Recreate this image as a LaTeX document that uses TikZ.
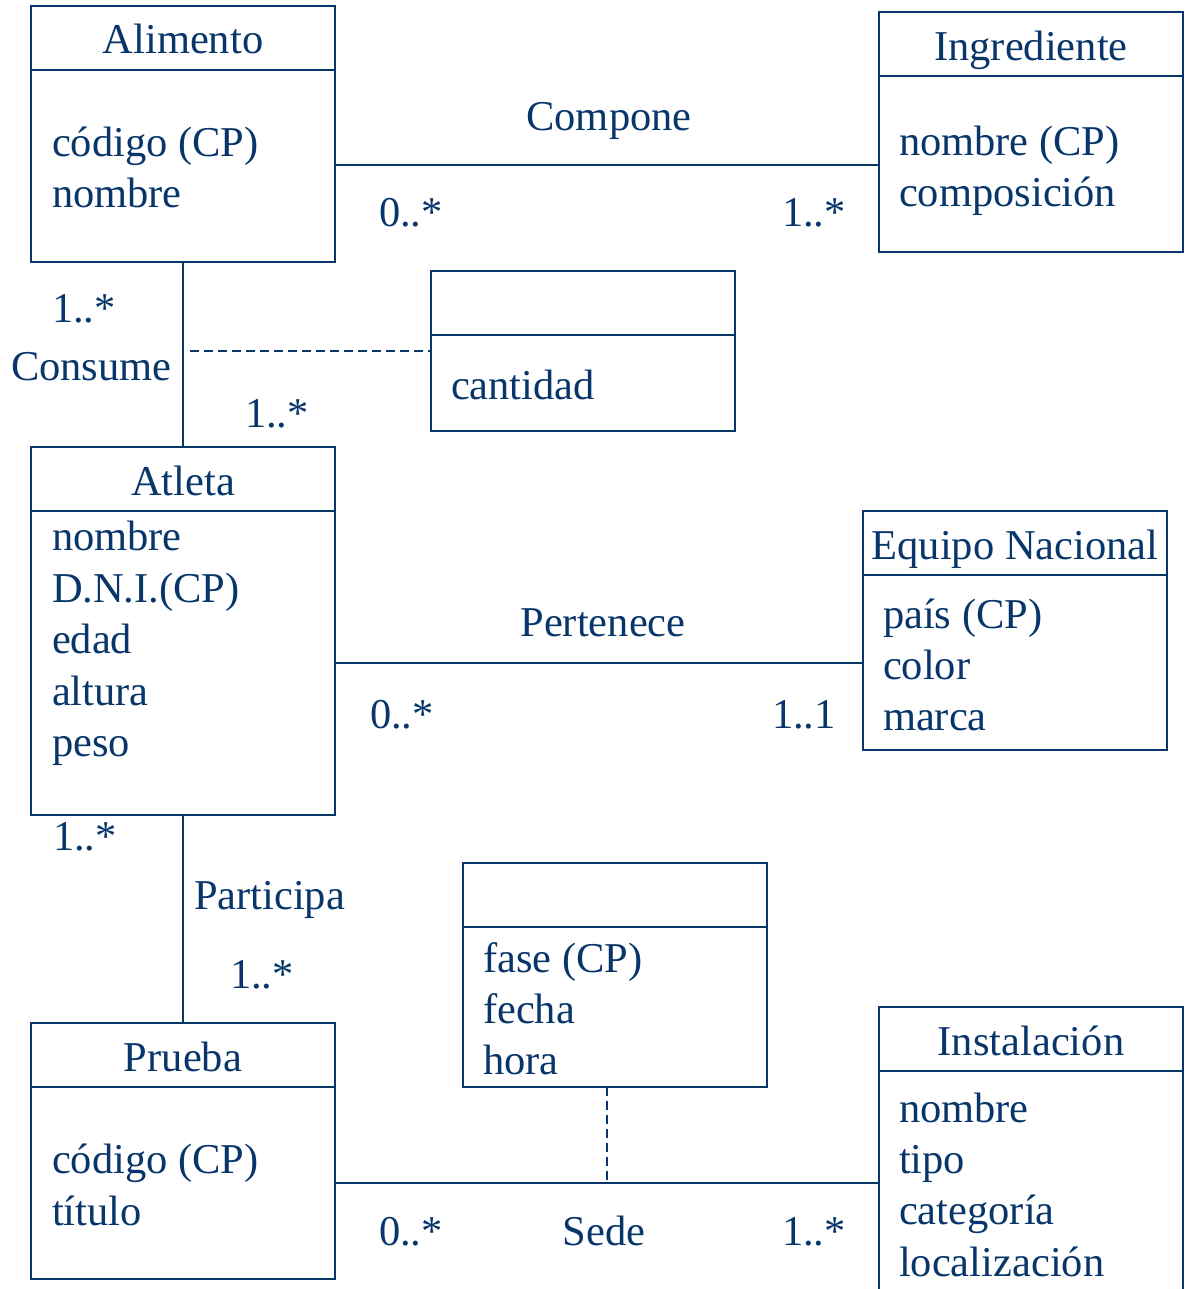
\documentclass[tikz,border=0pt]{standalone}
\usepackage{fontspec}
\setmainfont{Liberation Serif}
\definecolor{navy}{RGB}{8,54,106}
\begin{document}
\begin{tikzpicture}[x=1pt,y=-1pt,
  cls/.style={draw=navy, line width=2pt, inner sep=0pt, outer sep=0pt, anchor=north west},
  sep/.style={draw=navy, line width=2pt},
  conn/.style={draw=navy, line width=2pt},
  dconn/.style={draw=navy, line width=2pt, dash pattern=on 9pt off 5pt},
  txt/.style={text=navy, inner sep=0pt, outer sep=0pt, font=\fontsize{42.5}{51}\selectfont},
  ttl/.style={txt, anchor=base},
  att/.style={txt, anchor=base west}]
\useasboundingbox (0,0) rectangle (1184,1289);
\clip (0,0) rectangle (1184,1289);

% class boxes
\node[cls, minimum width=304pt, minimum height=256pt] (alimento) at (31,6) {};
\node[cls, minimum width=304pt, minimum height=240pt] (ingrediente) at (879,12) {};
\node[cls, minimum width=304pt, minimum height=160pt] (cantidadbox) at (431,271) {};
\node[cls, minimum width=304pt, minimum height=368pt] (atleta) at (31,447) {};
\node[cls, minimum width=304pt, minimum height=239pt] (equipo) at (863,511) {};
\node[cls, minimum width=304pt, minimum height=224pt] (sedebox) at (463,863) {};
\node[cls, minimum width=304pt, minimum height=256pt] (prueba) at (31,1023) {};
\node[cls, minimum width=304pt, minimum height=300pt] (instalacion) at (879,1007) {};

% header separators
\foreach \b in {alimento,ingrediente,cantidadbox,atleta,equipo,sedebox,prueba,instalacion}
  \draw[sep] ([yshift=-64pt]\b.north west) -- ([yshift=-64pt]\b.north east);

% titles
\node[ttl] (tAlimento) at (183,54) {Alimento};
\node[ttl] (tIngrediente) at (1031,61) {Ingrediente};
\node[ttl] (tAtleta) at (183,495) {Atleta};
\node[ttl] (tEquipo) at (1015,559) {Equipo Nacional};
\node[ttl] (tPrueba) at (183,1071) {Prueba};
\node[ttl] (tInstalacion) at (1031,1055) {Instalación};

% attributes
\node[att] (a1) at (52,157) {código (CP)};
\node[att] (a2) at (52,208) {nombre};
\node[att] (i1) at (899,156) {nombre (CP)};
\node[att] (i2) at (899,207) {composición};
\node[att] (c1) at (451,399) {cantidad};
\node[att] (at1) at (52,550) {nombre};
\node[att] (at2) at (52,602) {D.N.I.(CP)};
\node[att] (at3) at (52,653) {edad};
\node[att] (at4) at (52,705) {altura};
\node[att] (at5) at (52,756) {peso};
\node[att] (e1) at (883,628) {país (CP)};
\node[att] (e2) at (883,679) {color};
\node[att] (e3) at (883,730) {marca};
\node[att] (s1) at (483,972) {fase (CP)};
\node[att] (s2) at (483,1023) {fecha};
\node[att] (s3) at (483,1074) {hora};
\node[att] (p1) at (52,1173) {código (CP)};
\node[att] (p2) at (52,1225) {título};
\node[att] (n1) at (899,1122) {nombre};
\node[att] (n2) at (899,1173) {tipo};
\node[att] (n3) at (899,1224) {categoría};
\node[att] (n4) at (899,1276) {localización};

% connector levels
\coordinate (yCompone) at (600,165);
\coordinate (yPertenece) at (600,663);
\coordinate (ySede) at (607,1183);
\coordinate (consumeDash) at (190,351);

% connectors
\draw[conn] (alimento.east |- yCompone) -- (ingrediente.west |- yCompone);
\draw[conn] (alimento.south) -- (atleta.north);
\draw[dconn] (consumeDash) -- (cantidadbox.west);
\draw[conn] (atleta.east |- yPertenece) -- (equipo.west |- yPertenece);
\draw[conn] (atleta.south) -- (prueba.north);
\draw[conn] (prueba.east |- ySede) -- (instalacion.west |- ySede);
\draw[dconn] (ySede |- sedebox.south) -- (ySede);

% labels
\node[ttl] (lCompone) at (609,131) {Compone};
\node[att] (m1) at (379,227) {0..*};
\node[att] (m2) at (782,227) {1..*};
\node[att] (lConsume) at (11,380) {Consume};
\node[att] (m3) at (52,322) {1..*};
\node[att] (m4) at (245,427) {1..*};
\node[ttl] (lPertenece) at (603,636) {Pertenece};
\node[att] (m5) at (370,728) {0..*};
\node[att] (m6) at (772,728) {1..1};
\node[att] (lParticipa) at (194,909) {Participa};
\node[att] (m7) at (53,850) {1..*};
\node[att] (m8) at (230,988) {1..*};
\node[ttl] (lSede) at (604,1245) {Sede};
\node[att] (m9) at (379,1245) {0..*};
\node[att] (m10) at (782,1245) {1..*};
\end{tikzpicture}
\end{document}
